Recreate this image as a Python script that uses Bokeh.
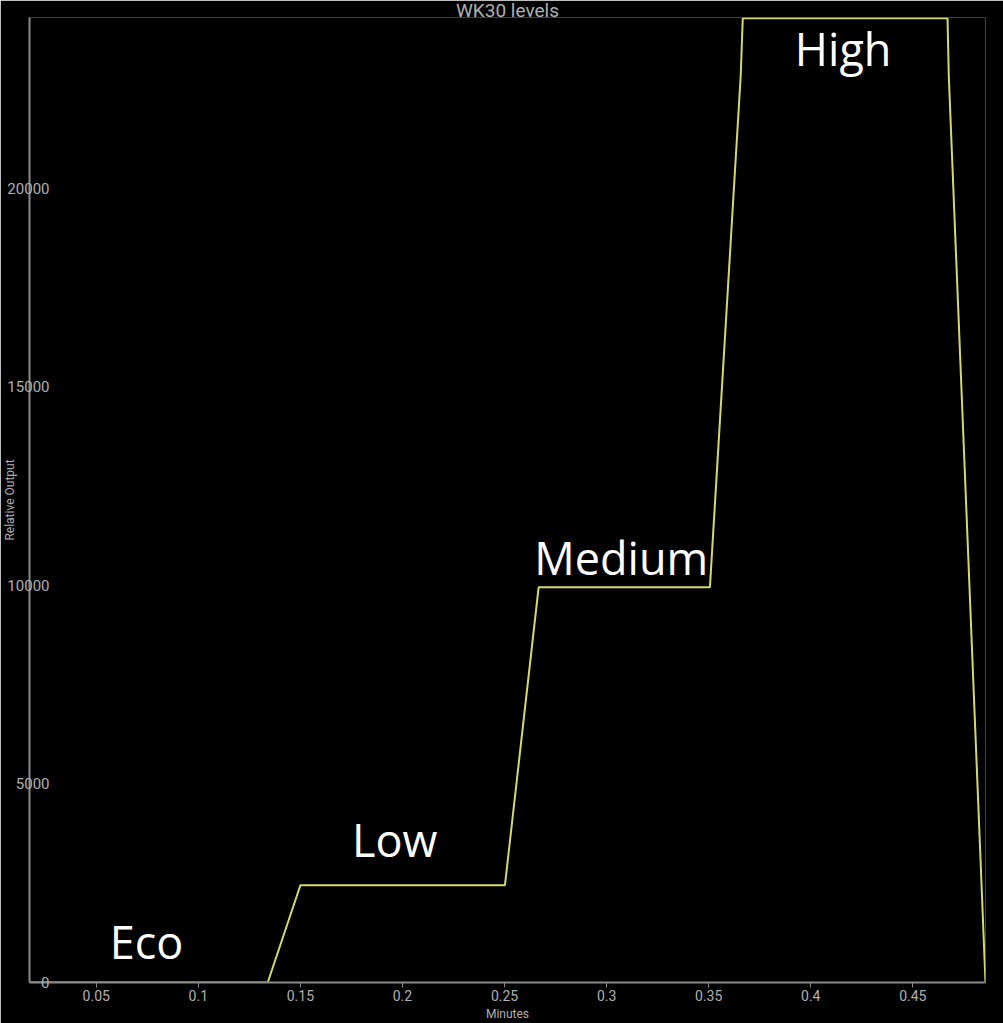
from bokeh.plotting import figure
from bokeh.models import Range1d, FixedTicker, ColumnDataSource
from bokeh.embed import file_html
from bokeh.resources import INLINE
from bokeh.core.properties import value

# ---- data ----
minutes = [0.0173, 0.134, 0.150, 0.2502, 0.2667, 0.3506, 0.3657, 0.3667, 0.4670, 0.4676, 0.4856]
output  = [0,      0,     2450,  2450,   9950,   9950,   22850,  24280,  24280,  22850,  0]

level_names = ["Eco", "Low", "Medium", "High"]
level_start = [0.0173, 0.150, 0.2667, 0.3667]
level_end   = [0.134, 0.2502, 0.3506, 0.4670]
level_value = [0, 2450, 9950, 24280]

x_ticks = [0.05, 0.1, 0.15, 0.2, 0.25, 0.3, 0.35, 0.4, 0.45]
y_ticks = [0, 5000, 10000, 15000, 20000]

X0, X1 = 0.0173, 0.4856
Y0, Y1 = 0, 24300

p = figure(width=1003, height=1023, output_backend="svg", toolbar_location=None,
           title="WK30 levels",
           x_range=Range1d(X0, X1), y_range=Range1d(Y0, Y1),
           background_fill_color="black", border_fill_color="black",
           min_border_left=28, min_border_right=18, min_border_top=17, min_border_bottom=41)
p.outline_line_color = None
p.grid.visible = False

p.title.align = "center"
p.title.text_color = "#b0b0b0"
p.title.text_font = "Roboto"
p.title.text_font_style = "normal"
p.title.text_font_size = "19px"
p.title.standoff = -9
p.title.offset = 0

p.line(minutes, output, line_color="#d6d96a", line_width=2)

src = ColumnDataSource(dict(
    x=[(a + b) / 2 for a, b in zip(level_start, level_end)],
    y=level_value,
    t=level_names,
    xoff=[-2, -8, -3, -2],
    yoff=[-11, -15, 1, 61],
))
p.text(x="x", y="y", text="t", source=src, x_offset="xoff", y_offset="yoff",
       text_color="white", text_font=value("Open Sans"), text_font_size="45px",
       text_align="center", text_baseline="bottom")

axis_col = "#8a8a8a"
lab_col = "#b0b0b0"

xa = p.xaxis[0]
xa.ticker = FixedTicker(ticks=x_ticks)
xa.axis_line_color = axis_col
xa.axis_line_width = 2
xa.major_tick_line_color = axis_col
xa.major_tick_out = 5
xa.major_tick_in = 0
xa.minor_tick_line_color = None
xa.major_label_text_color = lab_col
xa.major_label_text_font = "Roboto"
xa.major_label_text_font_size = "14px"
xa.major_label_standoff = 2
xa.axis_label = "Minutes"
xa.axis_label_text_color = lab_col
xa.axis_label_text_font = "Roboto"
xa.axis_label_text_font_style = "normal"
xa.axis_label_text_font_size = "12px"
xa.axis_label_standoff = 3

ya = p.yaxis[0]
ya.ticker = FixedTicker(ticks=y_ticks)
ya.axis_line_color = axis_col
ya.axis_line_width = 2
ya.major_tick_line_color = None
ya.major_tick_out = 0
ya.major_tick_in = 0
ya.minor_tick_line_color = None
ya.major_label_text_color = lab_col
ya.major_label_text_font = "Roboto"
ya.major_label_text_font_size = "15px"
ya.major_label_standoff = -20
ya.axis_label = "Relative Output"
ya.axis_label_text_color = lab_col
ya.axis_label_text_font = "Roboto"
ya.axis_label_text_font_style = "normal"
ya.axis_label_text_font_size = "12px"
ya.axis_label_standoff = -13

open("out.html", "w").write(file_html(p, INLINE))
